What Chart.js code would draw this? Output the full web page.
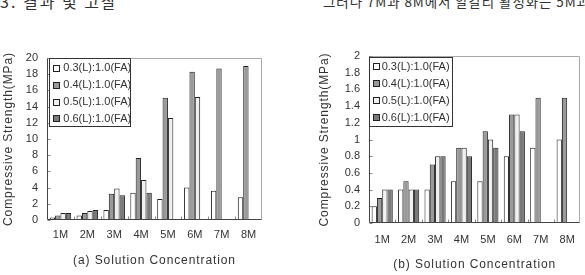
<!DOCTYPE html>
<html>
<head>
<meta charset="utf-8">
<script src="https://cdn.jsdelivr.net/npm/chart.js@4.4.1/dist/chart.umd.min.js"></script>
<style>
  html, body { margin: 0; padding: 0; background: #fff; width: 585px; height: 275px; overflow: hidden; position: relative; }
  canvas { position: absolute; top: 0; }
  .hdr { position: absolute; font-family: "Noto Sans CJK KR", sans-serif; color: #333; white-space: nowrap; line-height: 1; }
</style>
</head>
<body>
<div class="hdr" style="left:0px; top:-7px; font-size:16px; letter-spacing:2px;">3. 결과 및 고찰</div>
<div class="hdr" style="left:323px; top:-5px; font-size:13.5px; letter-spacing:0.9px;">그러나 7M과 8M에서 알칼리 활성화는 5M과</div>
<canvas id="ca" width="290" height="275" style="left:0px; width:290px; height:275px;"></canvas>
<canvas id="cb" width="295" height="275" style="left:290px; width:295px; height:275px;"></canvas>
<script>
// ---------------- data ----------------
const categories = ['1M', '2M', '3M', '4M', '5M', '6M', '7M', '8M'];
const seriesLabels = ['0.3(L):1.0(FA)', '0.4(L):1.0(FA)', '0.5(L):1.0(FA)', '0.6(L):1.0(FA)'];

// (a) compressive strength, MPa
const a_03 = [0.3, 0.55, 1.25, 3.35, 2.6, 4.0, 3.6, 2.8];
const a_04 = [0.55, 0.85, 3.25, 7.65, 15.1, 18.3, 18.7, 19.0];
const a_05 = [0.85, 1.1, 3.9, 4.95, 12.6, 15.2, null, null];
const a_06 = [0.85, 1.25, 3.05, 3.35, null, null, null, null];

// (b) compressive strength, MPa
const b_03 = [0.2, 0.4, 0.4, 0.5, 0.5, 0.8, 0.9, 1.0];
const b_04 = [0.3, 0.5, 0.7, 0.9, 1.1, 1.3, 1.5, 1.5];
const b_05 = [0.4, 0.4, 0.8, 0.9, 1.0, 1.3, null, null];
const b_06 = [0.4, 0.4, 0.8, 0.8, 0.9, 1.1, null, null];

const yTicksA = { min: 0, max: 20, step: 2 };
const yTicksB = { min: 0, max: 2, step: 0.2 };

// ---------------- styles ----------------
const fills = ['#ffffff', '#9a9a9a', '#f0f0f0', '#7a7a7a'];
const edge = '#222222';
const txt = '#333333';
Chart.defaults.font.family = '"Liberation Sans", Arial, sans-serif';
Chart.defaults.color = txt;

function makeSets(arrs) {
  return arrs.map((d, i) => ({
    label: seriesLabels[i], data: d,
    backgroundColor: fills[i], borderColor: edge, borderWidth: 1,
    categoryPercentage: 0.8, barPercentage: 1.0
  }));
}

const framePlugin = {
  id: 'frame',
  beforeDraw(chart) {
    Object.values(chart.scales).forEach(s => {
      if (!s._spaced) {
        const orig = s.drawTitle;
        s.drawTitle = function () {
          const c = this.ctx; const prev = c.letterSpacing;
          c.letterSpacing = '0.9px'; orig.call(this); c.letterSpacing = prev;
        };
        s._spaced = true;
      }
    });
  },
  afterDraw(chart, args, opts) {
    const ctx = chart.ctx, ca = chart.chartArea;
    const x = chart.scales.x, y = chart.scales.y;
    const L = Math.round(ca.left) + 0.5, R = Math.round(ca.right) - 0.5;
    const T = Math.round(ca.top) + 0.5, B = Math.round(ca.bottom) - 0.5;
    ctx.save();
    ctx.lineWidth = 1;
    // top & right light frame
    ctx.strokeStyle = '#aaaaaa';
    ctx.beginPath(); ctx.moveTo(L, T); ctx.lineTo(R, T); ctx.lineTo(R, B); ctx.stroke();
    // inward tick marks
    ctx.strokeStyle = '#888888';
    y.ticks.forEach(t => {
      const py = Math.round(y.getPixelForValue(t.value)) + 0.5;
      ctx.beginPath(); ctx.moveTo(L, py); ctx.lineTo(L + 3, py); ctx.stroke();
    });
    const n = categories.length;
    for (let i = 1; i < n; i++) {
      const px = Math.round((x.getPixelForTick(i - 1) + x.getPixelForTick(i)) / 2) + 0.5;
      ctx.beginPath(); ctx.moveTo(px, B); ctx.lineTo(px, B - 3); ctx.stroke();
    }
    // axis lines
    ctx.strokeStyle = '#444444';
    ctx.beginPath(); ctx.moveTo(L, T); ctx.lineTo(L, B); ctx.lineTo(R, B); ctx.stroke();
    // legend
    const lg = opts.legend;
    const lx = Math.round(ca.left + lg.dx) + 0.5, ly = Math.round(ca.top + lg.dy) + 0.5;
    ctx.fillStyle = '#ffffff';
    ctx.fillRect(lx, ly, lg.w, lg.h);
    ctx.strokeStyle = '#333333';
    ctx.strokeRect(lx, ly, lg.w, lg.h);
    ctx.font = '11px "Liberation Sans", Arial, sans-serif';
    ctx.textBaseline = 'middle';
    ctx.textAlign = 'left';
    chart.data.datasets.forEach((ds, i) => {
      const cy = ca.top + lg.firstY + i * lg.step;
      const sx = Math.round(ca.left + lg.boxX) + 0.5, sy = Math.round(cy - lg.box / 2) + 0.5;
      ctx.fillStyle = ds.backgroundColor;
      ctx.fillRect(sx, sy, lg.box, lg.box);
      ctx.strokeStyle = edge;
      ctx.strokeRect(sx, sy, lg.box, lg.box);
      ctx.fillStyle = txt;
      ctx.fillText(ds.label, ca.left + lg.textX, cy + 0.5);
    });
    ctx.restore();
  }
};

function build(canvasId, sets, yt, title, geo) {
  return new Chart(document.getElementById(canvasId), {
    type: 'bar',
    data: { labels: categories, datasets: sets },
    plugins: [framePlugin],
    options: {
      responsive: false, animation: false, devicePixelRatio: 1,
      layout: { padding: geo.padding },
      plugins: {
        legend: { display: false }, tooltip: { enabled: false },
        frame: { legend: geo.legend }
      },
      scales: {
        x: {
          grid: { display: false, drawTicks: false },
          border: { display: false },
          ticks: { font: { size: 11 }, padding: geo.xTickPad, color: txt, maxRotation: 0 },
          title: { display: true, text: title, font: { size: 12 }, color: txt, padding: { top: 0, bottom: geo.xTitlePad } },
          afterFit(s) { s.height = geo.xHeight; }
        },
        y: {
          min: yt.min, max: yt.max,
          grid: { display: false, drawTicks: false },
          border: { display: false },
          ticks: {
            stepSize: yt.step, font: { size: 11 }, padding: 9, color: txt,
            callback: v => String(Math.round(v * 10) / 10)
          },
          title: { display: true, text: 'Compressive Strength(MPa)', font: { size: 12 }, color: txt, padding: { top: 1, bottom: 0 } },
          afterFit(s) { s.width = geo.yWidth; }
        }
      }
    }
  });
}

build('ca', makeSets([a_03, a_04, a_05, a_06]), yTicksA, '(a) Solution Concentration', {
  padding: { left: 0, right: 28, top: 58, bottom: 0 },
  yWidth: 47, xHeight: 55, xTickPad: 8, xTitlePad: 7,
  legend: { dx: 2, dy: 0, w: 81, h: 68, firstY: 9.7, step: 16.9, boxX: 5.5, box: 6, textX: 16.3 }
});

build('cb', makeSets([b_03, b_04, b_05, b_06]), yTicksB, '(b) Solution Concentration', {
  padding: { left: 26, right: 3, top: 56, bottom: 0 },
  yWidth: 53, xHeight: 52, xTickPad: 10, xTitlePad: 3.5,
  legend: { dx: 0, dy: 0.5, w: 83, h: 69, firstY: 10, step: 17.1, boxX: 4.3, box: 6, textX: 12.7 }
});
</script>
</body>
</html>
